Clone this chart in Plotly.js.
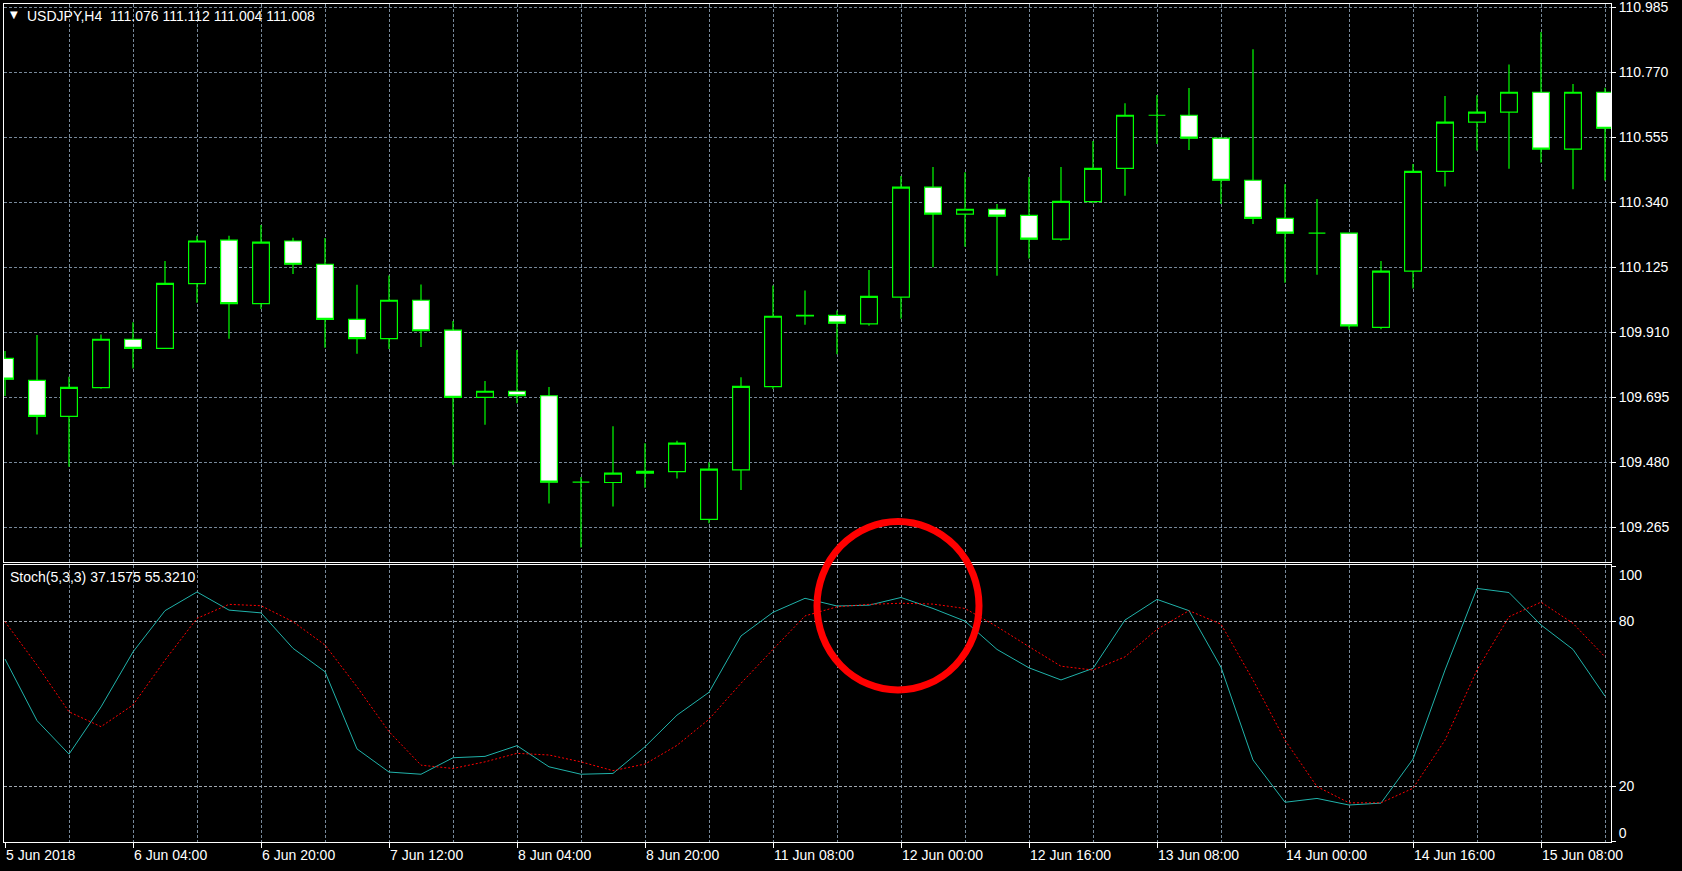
<!DOCTYPE html>
<html>
<head>
<meta charset="utf-8">
<script src="https://cdn.plot.ly/plotly-3.0.1.min.js"></script>
<style>
html,body{margin:0;padding:0;background:#000;overflow:hidden}
#chart{width:1682px;height:871px}
</style>
</head>
<body>
<div id="chart"></div>
<script>
// ---- data (bar index 0 = 5 Jun 2018 12:00, H4 bars) ----
const barIndex = [0,1,2,3,4,5,6,7,8,9,10,11,12,13,14,15,16,17,18,19,20,21,22,23,24,25,26,27,28,29,30,31,32,33,34,35,36,37,38,39,40,41,42,43,44,45,46,47,48,49,50];

const openP  = [109.824,109.751,109.632,109.727,109.887,109.857,110.071,110.215,110.005,110.212,
                110.135,109.953,109.889,110.016,109.917,109.695,109.715,109.700,109.414,109.413,
                109.444,109.449,109.291,109.455,109.730,109.964,109.966,109.938,110.026,110.390,
                110.301,110.317,110.297,110.218,110.342,110.452,110.628,110.628,110.552,110.413,
                110.287,110.238,110.238,109.926,110.112,110.442,110.605,110.638,110.704,110.516,
                110.704];
const highP  = [109.848,109.901,109.763,109.903,109.943,110.146,110.229,110.229,110.265,110.223,
                110.222,110.067,110.098,110.068,109.947,109.749,109.851,109.729,109.431,109.599,
                109.543,109.551,109.480,109.761,110.065,110.048,109.982,110.116,110.427,110.457,
                110.439,110.334,110.424,110.457,110.543,110.668,110.695,110.718,110.552,110.846,
                110.400,110.351,110.238,110.146,110.467,110.692,110.694,110.796,110.903,110.731,
                110.719];
const lowP   = [109.699,109.572,109.465,109.723,109.790,109.857,110.008,109.889,109.987,110.103,
                109.859,109.839,109.855,109.861,109.472,109.604,109.675,109.344,109.198,109.334,
                109.396,109.426,109.278,109.388,109.722,109.935,109.837,109.932,109.955,110.125,
                110.193,110.097,110.154,110.213,110.337,110.362,110.533,110.513,110.334,110.268,
                110.074,110.100,109.918,109.920,110.055,110.392,110.511,110.451,110.472,110.383,
                110.412];
const closeP = [109.755,109.632,109.728,109.887,109.857,110.072,110.212,110.005,110.208,110.135,
                109.953,109.889,110.016,109.915,109.695,109.715,109.700,109.414,109.414,109.444,
                109.450,109.543,109.457,109.731,109.963,109.966,109.940,110.029,110.390,110.301,
                110.317,110.294,110.218,110.343,110.452,110.628,110.628,110.552,110.413,110.287,
                110.238,110.238,109.931,110.112,110.442,110.605,110.638,110.704,110.516,110.704,
                110.585];

const stochK = [66.3,43.9,31.7,48.9,68.9,83.9,90.7,84.1,83.1,70.2,
                61.7,33.6,25.2,24.4,30.4,30.9,34.8,27.1,24.4,24.7,
                34.4,45.9,54.2,74.7,83.3,88.4,85.6,85.9,88.7,84.7,
                80.1,69.8,63.1,58.7,62.9,80.5,88.0,83.9,63.3,29.6,
                14.2,15.6,13.2,13.9,29.9,62.3,92.0,90.5,78.7,69.8,
                52.8];
const stochD = [79.9,64.1,47.1,41.7,49.6,65.9,81.1,86.2,85.7,79.9,
                71.4,56.2,39.9,27.7,26.5,28.9,32.0,31.4,28.9,25.7,
                28.1,34.9,44.4,57.5,69.8,82.0,85.3,86.2,86.6,86.3,
                84.7,78.1,70.8,63.7,62.3,67.1,77.1,83.9,79.0,58.7,
                36.8,19.9,14.0,14.0,19.3,36.8,62.3,81.7,87.0,79.3,
                67.1];

const priceTicks = [109.265,109.480,109.695,109.910,110.125,110.340,110.555,110.770,110.985];
const stochLevels = [20,80];
const stochTop = [100];
const stochBottom = [0];
const timeTickIdx = [0,4,8,12,16,20,24,28,32,36,40,44,48];
const timeTickText = ["5 Jun 2018","6 Jun 04:00","6 Jun 20:00","7 Jun 12:00","8 Jun 04:00","8 Jun 20:00",
                      "11 Jun 08:00","12 Jun 00:00","12 Jun 16:00","13 Jun 08:00","14 Jun 00:00","14 Jun 16:00","15 Jun 08:00"];

const headerText = "USDJPY,H4\u00a0\u00a0111.076 111.112 111.004 111.008";
const stochText = "Stoch(5,3,3) 37.1575 55.3210";

// ---- style ----
const gridColor = '#778899';
const gridDash = '3px,2px';
const frameColor = '#ffffff';
const candleGreen = '#00ff00';
const FONT = 'Liberation Sans, Arial, sans-serif';

const traces = [
  {
    type: 'candlestick',
    x: barIndex, open: openP, high: highP, low: lowP, close: closeP,
    xaxis: 'x', yaxis: 'y',
    increasing: {line: {color: candleGreen, width: 1.2}, fillcolor: '#000000'},
    decreasing: {line: {color: candleGreen, width: 1.2}, fillcolor: '#ffffff'},
    whiskerwidth: 0,
    hoverinfo: 'skip'
  },
  {
    type: 'scatter', mode: 'lines',
    x: barIndex, y: stochK, xaxis: 'x2', yaxis: 'y2',
    line: {color: '#20b2aa', width: 1},
    hoverinfo: 'skip'
  },
  {
    type: 'scatter', mode: 'lines',
    x: barIndex, y: stochD, xaxis: 'x2', yaxis: 'y2',
    line: {color: '#ff0000', width: 1, dash: '2px,2px'},
    hoverinfo: 'skip'
  },
  // empty traces only to register the overlay label axes
  {type: 'scatter', mode: 'lines', x: [], y: [], xaxis: 'x2', yaxis: 'y3', hoverinfo: 'skip'},
  {type: 'scatter', mode: 'lines', x: [], y: [], xaxis: 'x2', yaxis: 'y4', hoverinfo: 'skip'}
];

const xRange = [-0.03125, 50.1875];
const stochRange = [-0.25, 100.5];

const layout = {
  width: 1682, height: 871,
  paper_bgcolor: '#000000', plot_bgcolor: '#000000',
  margin: {l: 4, r: 71, t: 4, b: 29, pad: 0},
  showlegend: false,
  boxgap: 0.25,
  font: {family: FONT, size: 14, color: '#ffffff'},
  title: {
    text: headerText, xref: 'container', yref: 'container',
    x: 27/1682, xanchor: 'left', y: 1 - 16/871, yanchor: 'middle',
    font: {family: FONT, size: 14, color: '#ffffff'}
  },
  xaxis: {
    domain: [0, 1], anchor: 'y', range: xRange,
    tickmode: 'linear', tick0: 0, dtick: 2,
    showticklabels: false, ticks: '',
    showgrid: true, gridcolor: gridColor, griddash: gridDash, gridwidth: 1,
    zeroline: false, showline: true, linecolor: frameColor, linewidth: 1, mirror: true,
    rangeslider: {visible: false}, fixedrange: true
  },
  yaxis: {
    domain: [0.3341, 1], anchor: 'x', side: 'right', range: [109.150, 110.996],
    tickmode: 'array', tickvals: priceTicks, tickformat: '.3f',
    ticks: 'outside', ticklen: 4, tickcolor: frameColor,
    ticklabeloverflow: 'allow',
    showgrid: true, gridcolor: gridColor, griddash: gridDash, gridwidth: 1,
    zeroline: false, showline: true, linecolor: frameColor, linewidth: 1, mirror: true,
    tickfont: {family: FONT, size: 14, color: '#ffffff'}, fixedrange: true
  },
  xaxis2: {
    domain: [0, 1], anchor: 'y2', range: xRange,
    tickmode: 'array', tickvals: timeTickIdx, ticktext: timeTickText,
    ticks: 'outside', ticklen: 5, tickcolor: frameColor,
    ticklabelposition: 'outside right',
    showgrid: true, gridcolor: gridColor, griddash: gridDash, gridwidth: 1,
    minor: {tickmode: 'linear', tick0: 0, dtick: 2, ticks: '', showgrid: true,
            gridcolor: gridColor, griddash: gridDash, gridwidth: 1},
    zeroline: false, showline: true, linecolor: frameColor, linewidth: 1, mirror: true,
    tickfont: {family: FONT, size: 14, color: '#ffffff'}, fixedrange: true
  },
  yaxis2: {
    domain: [0, 0.3305], anchor: 'x2', side: 'right', range: stochRange,
    tickmode: 'array', tickvals: stochLevels,
    ticks: 'outside', ticklen: 4, tickcolor: frameColor,
    ticklabeloverflow: 'allow',
    showgrid: true, gridcolor: '#a0a8b0', griddash: gridDash, gridwidth: 1,
    zeroline: false, showline: true, linecolor: frameColor, linewidth: 1, mirror: true,
    tickfont: {family: FONT, size: 14, color: '#ffffff'}, fixedrange: true
  },
  yaxis3: {
    overlaying: 'y2', anchor: 'x2', side: 'right', range: stochRange,
    tickmode: 'array', tickvals: stochTop, ticks: 'outside', ticklen: 4, tickcolor: frameColor,
    ticklabelshift: 9, ticklabeloverflow: 'allow',
    showgrid: false, zeroline: false, showline: false,
    tickfont: {family: FONT, size: 14, color: '#ffffff'}, fixedrange: true
  },
  yaxis4: {
    overlaying: 'y2', anchor: 'x2', side: 'right', range: stochRange,
    tickmode: 'array', tickvals: stochBottom, ticks: 'outside', ticklen: 4, tickcolor: frameColor,
    ticklabelshift: -8, ticklabeloverflow: 'allow',
    showgrid: false, zeroline: false, showline: false,
    tickfont: {family: FONT, size: 14, color: '#ffffff'}, fixedrange: true
  },
  annotations: [
    {text: '\u25BC', xref: 'paper', yref: 'paper', x: (13.5-4)/1607, y: (842-15)/838,
     xanchor: 'center', yanchor: 'middle', showarrow: false,
     font: {family: 'DejaVu Sans, sans-serif', size: 10, color: '#ffffff'}},
    {text: stochText, xref: 'paper', yref: 'paper', x: (8-4)/1607, y: (842-577)/838,
     xanchor: 'left', yanchor: 'middle', showarrow: false,
     font: {family: FONT, size: 14, color: '#ffffff'}}
  ],
  shapes: [
    {type: 'circle', xref: 'paper', yref: 'paper',
     x0: (817-4)/1607, x1: (979-4)/1607, y0: (842-690)/838, y1: (842-521.5)/838,
     line: {color: '#ff0000', width: 7}, fillcolor: 'rgba(0,0,0,0)', layer: 'above'}
  ]
};

Plotly.newPlot('chart', traces, layout, {displayModeBar: false, staticPlot: true});
</script>
</body>
</html>
